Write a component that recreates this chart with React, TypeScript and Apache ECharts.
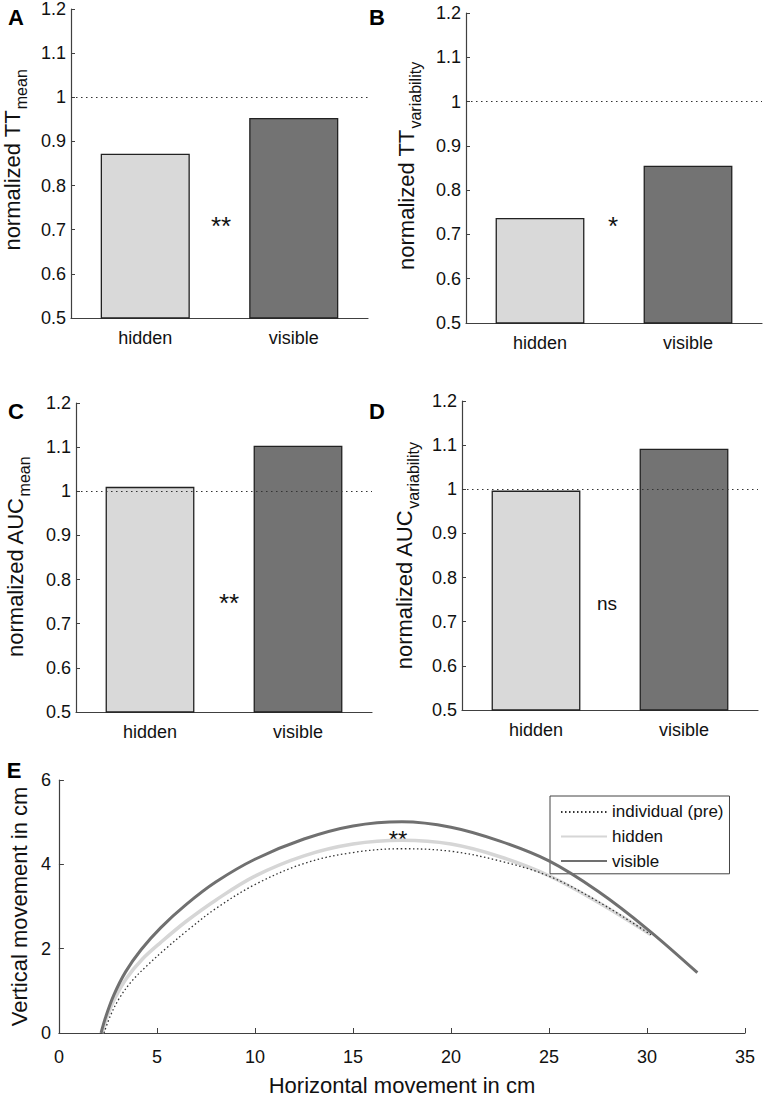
import React, { useEffect, useRef } from 'react';
import * as echarts from 'echarts';

const FONT = "'Liberation Sans', Arial, Helvetica, sans-serif";

// ---- bar panels (A-D) ----
const barCategories = ['hidden', 'visible'];
const ttMean = [0.872, 0.953];
const ttVariability = [0.737, 0.855];
const aucMean = [1.01, 1.103];
const aucVariability = [0.997, 1.092];
const barColors = ['#d9d9d9', '#737373'];
const referenceLevel = 1;
const significance = ['**', '*', '**', 'ns'];
const panelLetters = ['A', 'B', 'C', 'D', 'E'];
const yLabelMain = ['normalized TT', 'normalized TT', 'normalized AUC', 'normalized AUC'];
const yLabelSub = ['mean', 'variability', 'mean', 'variability'];

// ---- trajectory panel (E) ----
const visibleX = [2.15, 2.4, 2.8, 3.4, 4.2, 5.2, 6.5, 8, 10, 12.5, 15, 17.5, 20, 22.5, 25, 27.5, 30, 32.57];
const visibleY = [0, 0.4, 0.9, 1.45, 1.98, 2.5, 3.05, 3.58, 4.12, 4.6, 4.91, 5.01, 4.88, 4.55, 4.08, 3.36, 2.47, 1.43];
const hiddenX = [2.2, 2.45, 2.85, 3.45, 4.25, 5.2, 6.5, 8, 10, 12.5, 15, 17.5, 20, 22.5, 25, 27.5, 30.2];
const hiddenY = [0, 0.38, 0.82, 1.3, 1.75, 2.15, 2.65, 3.15, 3.72, 4.2, 4.48, 4.57, 4.48, 4.18, 3.73, 3.1, 2.33];
const individualX = [2.3, 2.6, 3.05, 3.7, 4.5, 5.4, 6.6, 8, 10, 12.5, 15, 17.5, 20, 22.5, 25, 27.5, 30.2];
const individualY = [0, 0.38, 0.8, 1.22, 1.6, 1.98, 2.45, 2.95, 3.52, 4.02, 4.28, 4.37, 4.31, 4.08, 3.72, 3.12, 2.33];
const seriesNames = ['individual (pre)', 'hidden', 'visible'];

const zip = (xs: number[], ys: number[]) => xs.map((x, i) => [x, ys[i]]);

const grids = [
  { left: 71, top: 9, width: 297, height: 309 },
  { left: 466, top: 13, width: 296, height: 310 },
  { left: 76, top: 403, width: 296, height: 309 },
  { left: 462, top: 401, width: 296, height: 309 },
  { left: 57, top: 780, width: 688, height: 258 },
];

const AXIS_COLOR = '#404040';

export default function App() {
  const ref = useRef<HTMLDivElement>(null);

  useEffect(() => {
    document.body.style.margin = '0';
    const chart = echarts.init(ref.current!, null, { renderer: 'svg' });
    const barData = [ttMean, ttVariability, aucMean, aucVariability];

    const xAxes: any[] = [];
    const yAxes: any[] = [];
    const series: any[] = [];

    barData.forEach((vals, i) => {
      xAxes.push({
        type: 'category',
        gridIndex: i,
        data: barCategories,
        axisLine: { lineStyle: { color: AXIS_COLOR, width: 1.2 } },
        axisTick: { show: false },
        axisLabel: { color: '#111', fontSize: 18, fontFamily: FONT, margin: 11 },
      });
      yAxes.push({
        type: 'value',
        gridIndex: i,
        min: 0.5,
        max: 1.2,
        interval: 0.1,
        splitLine: { show: false },
        axisLine: { show: true, lineStyle: { color: AXIS_COLOR, width: 1.2 } },
        axisTick: { show: true, inside: true, length: 4, lineStyle: { color: AXIS_COLOR } },
        axisLabel: {
          color: '#111', fontSize: 18, fontFamily: FONT, margin: 5,
          formatter: (v: number) => String(Math.round(v * 10) / 10),
        },
      });
      series.push({
        type: 'bar',
        xAxisIndex: i,
        yAxisIndex: i,
        barWidth: '60%',
        data: vals.map((v, j) => ({
          value: v,
          itemStyle: { color: barColors[j], borderColor: '#222', borderWidth: 1.3 },
        })),
        markLine: {
          silent: true,
          symbol: 'none',
          label: { show: false },
          lineStyle: { color: '#333', width: 1.2, type: [1.5, 3.5] },
          data: [{ yAxis: referenceLevel }],
        },
      });
    });

    // panel E
    xAxes.push({
      type: 'value',
      gridIndex: 4,
      min: 0,
      max: 35,
      interval: 5,
      splitLine: { show: false },
      axisLine: { lineStyle: { color: AXIS_COLOR, width: 1.2 } },
      axisTick: { show: true, inside: true, length: 5, lineStyle: { color: AXIS_COLOR } },
      axisLabel: { color: '#111', fontSize: 18, fontFamily: FONT, margin: 15 },
      name: 'Horizontal movement in cm',
      nameLocation: 'middle',
      nameGap: 41,
      nameTextStyle: { color: '#111', fontSize: 22, fontFamily: FONT },
    });
    yAxes.push({
      type: 'value',
      gridIndex: 4,
      min: 0,
      max: 6,
      interval: 2,
      splitLine: { show: false },
      axisLine: { show: true, lineStyle: { color: AXIS_COLOR, width: 1.2 } },
      axisTick: { show: true, inside: true, length: 5, lineStyle: { color: AXIS_COLOR } },
      axisLabel: { color: '#111', fontSize: 18, fontFamily: FONT, margin: 8 },
      name: 'Vertical movement in cm',
      nameLocation: 'middle',
      nameGap: 26,
      nameRotate: 90,
      nameTextStyle: { color: '#111', fontSize: 22, fontFamily: FONT },
    });

    const lineDefs = [
      { name: seriesNames[0], data: zip(individualX, individualY), color: '#333', width: 1.3, type: [1.5, 2.5], z: 3 },
      { name: seriesNames[1], data: zip(hiddenX, hiddenY), color: '#d6d6d6', width: 3.5, type: 'solid', z: 2 },
      { name: seriesNames[2], data: zip(visibleX, visibleY), color: '#707070', width: 3, type: 'solid', z: 4 },
    ];
    lineDefs.forEach((d) => {
      series.push({
        type: 'line',
        name: d.name,
        xAxisIndex: 4,
        yAxisIndex: 4,
        data: d.data,
        smooth: 0.35,
        symbol: 'none',
        z: d.z,
        color: d.color,
        lineStyle: { color: d.color, width: d.width, type: d.type },
      });
    });

    const sigPos = [[221, 221], [613, 221], [229, 598], [607, 603]];
    const labelPos = [[12, 160], [406, 166], [15, 557], [404, 556]];
    const letterPos = [[16, 17], [377, 17], [16, 411], [377, 411], [14, 770]];

    const graphics: any[] = [];
    significance.forEach((s, i) => {
      const isStar = s.includes('*');
      graphics.push({
        type: 'text',
        x: sigPos[i][0],
        y: sigPos[i][1] + (isStar ? 5 : 0),
        style: {
          text: s, fill: '#111', fontFamily: FONT,
          fontSize: isStar ? 26 : 19,
          align: 'center', verticalAlign: 'middle',
        },
      });
    });
    graphics.push({
      type: 'text', x: 398, y: 839,
      style: { text: '**', fill: '#111', fontFamily: FONT, fontSize: 24, align: 'center', verticalAlign: 'middle' },
    });
    yLabelMain.forEach((m, i) => {
      graphics.push({
        type: 'text',
        x: labelPos[i][0],
        y: labelPos[i][1],
        rotation: Math.PI / 2,
        style: {
          text: `{m|${m}}{s|${yLabelSub[i]}}`,
          align: 'center',
          verticalAlign: 'middle',
          rich: {
            m: { fontSize: 22, fontFamily: FONT, fill: '#111', lineHeight: 24 },
            s: { fontSize: 16, fontFamily: FONT, fill: '#111', lineHeight: 16, padding: [19, 0, 0, 1] },
          },
        },
      });
    });
    panelLetters.forEach((L, i) => {
      graphics.push({
        type: 'text',
        x: letterPos[i][0],
        y: letterPos[i][1],
        style: { text: L, fill: '#000', fontFamily: FONT, fontSize: 22, fontWeight: 'bold', align: 'center', verticalAlign: 'middle' },
      });
    });

    chart.setOption({
      animation: false,
      backgroundColor: '#fff',
      grid: grids.map((g) => ({ ...g, containLabel: false })),
      xAxis: xAxes,
      yAxis: yAxes,
      series,
      legend: {
        data: seriesNames,
        orient: 'vertical',
        left: 550,
        top: 796,
        selectedMode: false,
        itemWidth: 46,
        itemHeight: 14,
        itemGap: 7.6,
        padding: [7.4, 6, 4.2, 10],
        borderColor: '#444',
        borderWidth: 1,
        backgroundColor: '#fff',
        itemStyle: { opacity: 0 },
        textStyle: { color: '#111', fontSize: 17, fontFamily: FONT },
      },
      graphic: graphics,
    });
    return () => chart.dispose();
  }, []);

  return <div ref={ref} style={{ width: 763, height: 1097, position: 'absolute', left: 0, top: 0 }} />;
}
